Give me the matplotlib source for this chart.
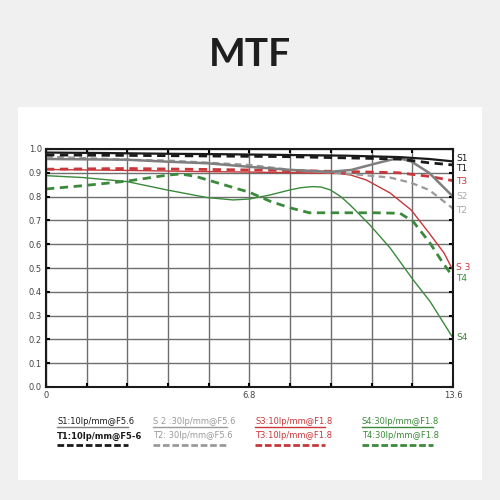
import matplotlib
matplotlib.use("Agg")
import matplotlib.pyplot as plt
from matplotlib.lines import Line2D
from matplotlib.patches import Rectangle
import numpy as np

# field position (mm) vs MTF
s1_x = [0, 2, 4, 6, 8, 10, 11.8, 12.8, 13.6]
s1_y = [0.985, 0.983, 0.98, 0.978, 0.975, 0.972, 0.966, 0.958, 0.948]
t1_x = [0, 4, 8, 11.8, 12.8, 13.6]
t1_y = [0.975, 0.972, 0.968, 0.958, 0.942, 0.933]

s2_x = [0, 2.7, 4.0, 5.4, 6.8, 8.2, 9.5, 10.2, 11.2, 11.6, 11.9, 12.2, 12.8, 13.6]
s2_y = [0.958, 0.955, 0.947, 0.94, 0.925, 0.912, 0.904, 0.912, 0.945, 0.957, 0.958, 0.948, 0.90, 0.80]
t2_x = [0, 2.7, 4.0, 6.8, 8.2, 10.2, 11.5, 12.2, 12.8, 13.6]
t2_y = [0.968, 0.955, 0.952, 0.933, 0.912, 0.895, 0.88, 0.858, 0.828, 0.75]

s3_x = [0, 2.7, 5.4, 6.8, 8.5, 9.8, 10.2, 10.7, 11.5, 12.2, 12.8, 13.3, 13.6]
s3_y = [0.914, 0.91, 0.905, 0.903, 0.9, 0.897, 0.89, 0.87, 0.815, 0.744, 0.647, 0.563, 0.49]
t3_x = [0, 2.7, 6.8, 10.2, 11.8, 12.8, 13.6]
t3_y = [0.915, 0.918, 0.912, 0.905, 0.9, 0.885, 0.867]

s4_x = [0, 1.24, 2.71, 4.04, 5.38, 6.25, 6.8, 7.49, 8.15, 8.5, 8.9, 9.2, 9.5, 9.85, 10.16, 10.83,
        11.5, 12.27, 12.83, 13.6]
s4_y = [0.888, 0.88, 0.863, 0.828, 0.796, 0.786, 0.79, 0.807, 0.828, 0.837, 0.842, 0.84, 0.828,
        0.80, 0.765, 0.68, 0.584, 0.45, 0.36, 0.206]
t4_x = [0, 1.24, 2.71, 4.04, 4.5, 5.0, 5.4, 6.8, 7.5, 8.15, 8.8, 10, 11.0, 11.83, 12.27, 12.83,
        13.27, 13.6]
t4_y = [0.832, 0.846, 0.865, 0.89, 0.895, 0.885, 0.87, 0.818, 0.78, 0.753, 0.732, 0.732, 0.732,
        0.73, 0.695, 0.605, 0.52, 0.463]

end_labels = ["S1", "T1", "T3", "S2", "T2", "S 3", "T4", "S4"]
end_label_y = [0.958, 0.918, 0.865, 0.80, 0.74, 0.50, 0.455, 0.21]

legend_s = ["S1:10lp/mm@F5.6", "S 2 :30lp/mm@F5.6", "S3:10lp/mm@F1.8", "S4:30lp/mm@F1.8"]
legend_t = ["T1:10lp/mm@F5-6", "T2: 30lp/mm@F5.6", "T3:10lp/mm@F1.8", "T4:30lp/mm@F1.8"]

black = "#1a1a1a"
gray_s = "#7f7f7f"
gray_t = "#9a9a9a"
red = "#c8373a"
green = "#3b8a3b"
label_colors = [black, black, red, "#a8a8a8", "#a8a8a8", red, green, green]

fig = plt.figure(figsize=(5, 5), dpi=100, facecolor="#f0f0f0")
fig.add_artist(Rectangle((0.036, 0.04), 0.928, 0.746, transform=fig.transFigure,
                         facecolor="white", edgecolor="none", zorder=0))
fig.text(0.5, 0.89, "MTF", ha="center", va="center", fontsize=28,
         fontweight="bold", family="Lato", color="#1e1e1e")

ax = fig.add_axes([0.092, 0.226, 0.814, 0.476])
ax.set_facecolor("white")

ax.plot(s4_x, s4_y, color=green, lw=1.0)
ax.plot(t4_x, t4_y, color=green, lw=2.0, ls=(0, (3, 2)))
ax.plot(s3_x, s3_y, color=red, lw=1.0)
ax.plot(t3_x, t3_y, color=red, lw=2.0, ls=(0, (3, 2)))
ax.plot(t2_x, t2_y, color=gray_t, lw=1.6, ls=(0, (3, 2)))
ax.plot(s2_x, s2_y, color=gray_s, lw=1.8)
ax.plot(t1_x, t1_y, color=black, lw=2.0, ls=(0, (3, 2)))
ax.plot(s1_x, s1_y, color=black, lw=1.6)

ax.set_xlim(0, 13.6)
ax.set_ylim(0, 1.0)
xt = np.linspace(0, 13.6, 11)
ax.set_xticks(xt)
ax.set_xticklabels(["0"] + [""] * 4 + ["6.8"] + [""] * 4 + ["13.6"])
ax.set_yticks(np.linspace(0, 1.0, 11))
ax.set_yticklabels(["%.1f" % v for v in np.linspace(0, 1.0, 11)])
ax.grid(True, color="#6e6e6e", lw=1.0)
ax.tick_params(direction="in", length=3, width=1.5, top=True, right=True,
               labelsize=6, labelcolor="#444444", pad=3)
for sp in ax.spines.values():
    sp.set_color(black)
    sp.set_linewidth(1.5)

for lab, yv, c in zip(end_labels, end_label_y, label_colors):
    ax.text(13.7, yv, lab, color=c, fontsize=6.5, va="center", ha="left")

# legend block
cols = [0.114, 0.306, 0.51, 0.724]
widths = [0.142, 0.148, 0.14, 0.142]
s_colors = [black, gray_t, red, green]
t_colors = [black, gray_t, red, green]
line_colors = [gray_s, gray_t, red, green]
for i in range(4):
    fig.text(cols[i], 0.158, legend_s[i], fontsize=6, color=s_colors[i], ha="left", va="center")
    fig.add_artist(Line2D([cols[i], cols[i] + widths[i]], [0.147, 0.147],
                          transform=fig.transFigure, color=line_colors[i], lw=1.0))
    fig.text(cols[i], 0.128, legend_t[i], fontsize=6, color=t_colors[i], ha="left", va="center",
             fontweight="bold" if i == 0 else "normal")
    fig.add_artist(Line2D([cols[i], cols[i] + widths[i]], [0.11, 0.11],
                          transform=fig.transFigure, color=t_colors[i], lw=2.0, ls=(0, (2.4, 1.0))))

fig.savefig("out.png", dpi=100, facecolor=fig.get_facecolor())
